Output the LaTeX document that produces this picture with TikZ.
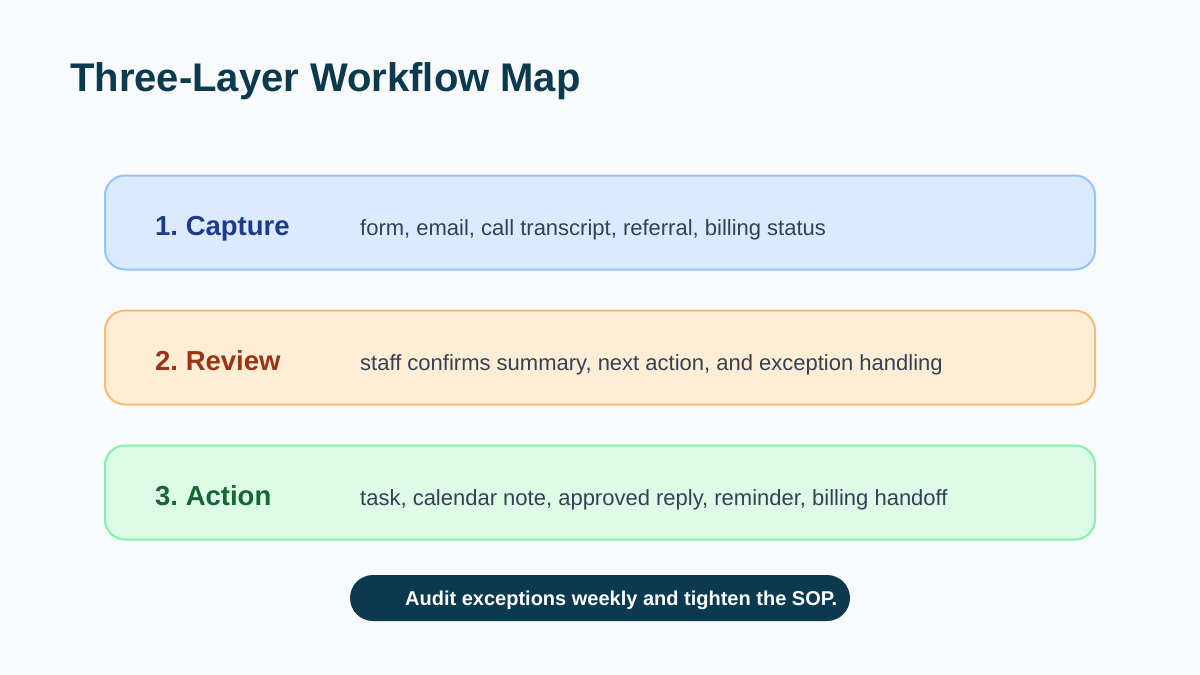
\documentclass[tikz,border=0pt]{standalone}
\usepackage{fontspec}
\setmainfont{Liberation Sans}
\frenchspacing
\definecolor{bg}{HTML}{F8FAFC}
\definecolor{navy}{HTML}{0B3A4F}
\definecolor{desc}{HTML}{334155}
\definecolor{bfill}{HTML}{DBEAFE}\definecolor{bline}{HTML}{93C5FD}\definecolor{btext}{HTML}{1E3A8A}
\definecolor{ofill}{HTML}{FFEDD5}\definecolor{oline}{HTML}{FDBA74}\definecolor{otext}{HTML}{9A3412}
\definecolor{gfill}{HTML}{DCFCE7}\definecolor{gline}{HTML}{86EFAC}\definecolor{gtext}{HTML}{166534}
\begin{document}
\begin{tikzpicture}[x=1pt,y=-1pt,
  layerbox/.style={draw, line width=2pt, rounded corners=20pt, minimum width=990pt, minimum height=94pt, inner sep=0pt},
  layerlabel/.style={anchor=base west, inner sep=0pt, font=\fontsize{27.5}{30}\selectfont\bfseries},
  layerdesc/.style={anchor=base west, inner sep=0pt, text=desc, font=\fontsize{22}{24}\selectfont}]
\useasboundingbox (0,0) rectangle (1200,675);
\fill[bg] (0,0) rectangle (1200,675);
\node[anchor=base west, inner sep=0pt, text=navy, font=\fontsize{40}{44}\selectfont\bfseries] (title) at (70,91) {Three-Layer Workflow Map};
\node[layerbox, fill=bfill, draw=bline] (cap) at (600,222.5) {};
\node[layerbox, fill=ofill, draw=oline] (rev) at (600,357.5) {};
\node[layerbox, fill=gfill, draw=gline] (act) at (600,492.5) {};
\node[layerlabel, text=btext] (capl) at (155,235) {1. Capture};
\node[layerlabel, text=otext] (revl) at (155,370) {2. Review};
\node[layerlabel, text=gtext] (actl) at (155,505) {3. Action};
\node[layerdesc] (capd) at (360,235) {form, email, call transcript, referral, billing status};
\node[layerdesc] (revd) at (360,370) {staff confirms summary, next action, and exception handling};
\node[layerdesc] (actd) at (360,505) {task, calendar note, approved reply, reminder, billing handoff};
\node[fill=navy, rounded corners=23pt, minimum width=500pt, minimum height=46pt, inner sep=0pt] (pill) at (600,598) {};
\node[anchor=base west, inner sep=0pt, text=white, font=\fontsize{20}{22}\selectfont\bfseries] (pillt) at (405,605) {Audit exceptions weekly and tighten the SOP.};
\end{tikzpicture}
\end{document}
